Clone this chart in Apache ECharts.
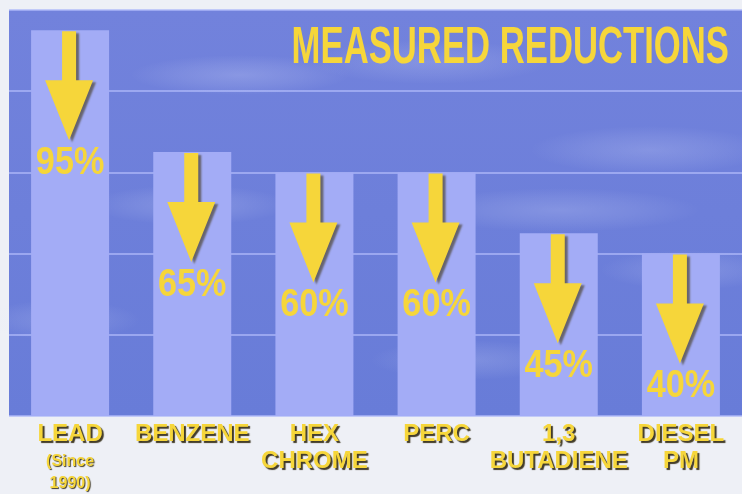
<!DOCTYPE html>
<html><head><meta charset="utf-8">
<script src="https://cdn.jsdelivr.net/npm/echarts@6/dist/echarts.min.js"></script>
<style>html,body{margin:0;padding:0;background:#eef0f6;}#c{width:742px;height:494px;}</style>
</head><body><div id="c"></div>
<script>
const titleText = 'MEASURED REDUCTIONS';
const categories = ['LEAD', 'BENZENE', 'HEX\nCHROME', 'PERC', '1,3\nBUTADIENE', 'DIESEL\nPM'];
const leadNote = ['(Since', '1990)'];
const reductions = [95, 65, 60, 60, 45, 40];
const yMin = 0, yMax = 100, yInterval = 20;

const YELLOW = '#f6d63a';
const SHADOW = 'rgba(45,38,15,0.9)';
const FONT = '"Liberation Sans", Arial, sans-serif';

const chart = echarts.init(document.getElementById('c'), null, {renderer: 'canvas'});

function cloud(cx, cy, rx, ry, op) {
  return {type: 'circle', silent: true, z: 1,
    x: cx, y: cy, scaleX: rx / ry,
    shape: {cx: 0, cy: 0, r: ry},
    style: {fill: {type: 'radial', x: 0.5, y: 0.5, r: 0.5,
      colorStops: [{offset: 0, color: 'rgba(225,230,255,' + op + ')'},
                   {offset: 0.55, color: 'rgba(225,230,255,' + (op * 0.5) + ')'},
                   {offset: 1, color: 'rgba(225,230,255,0)'}]}}};
}

chart.setOption({
  backgroundColor: '#eef0f6',
  animation: false,
  grid: {left: 9, right: 0, top: 10, bottom: 78, show: true,
    backgroundColor: {type: 'linear', x: 0, y: 0, x2: 0, y2: 1,
      colorStops: [{offset: 0, color: '#7282dc'}, {offset: 1, color: '#687cd8'}]},
    borderWidth: 0},
  graphic: [
    cloud(240, 75, 110, 20, 0.22),
    cloud(430, 62, 120, 22, 0.18),
    cloud(650, 150, 120, 24, 0.2),
    cloud(190, 205, 100, 20, 0.2),
    cloud(560, 210, 140, 22, 0.2),
    cloud(60, 320, 80, 20, 0.18),
    cloud(690, 270, 90, 20, 0.18),
    cloud(470, 360, 100, 20, 0.18),
    {type: 'text', z: 10, x: 729, y: 23, scaleX: 0.68,
      style: {text: titleText, font: 'bold 51px ' + FONT, fill: YELLOW,
        align: 'right', verticalAlign: 'top',
        shadowColor: SHADOW, shadowOffsetX: 3, shadowOffsetY: 2, shadowBlur: 1}}
  ],
  xAxis: {
    type: 'category', data: categories,
    axisLine: {show: false}, axisTick: {show: false},
    axisLabel: {
      margin: 5, interval: 0,
      formatter: function (val) {
        const lines = val.split('\n').map(function (l) { return '{a|' + l + '}'; });
        if (val === 'LEAD') {
          lines.push('{g| }');
          leadNote.forEach(function (n) { lines.push('{s|' + n + '}'); });
        }
        return lines.join('\n');
      },
      rich: {
        a: {fontFamily: FONT, fontWeight: 'bold', fontSize: 24, lineHeight: 27, color: YELLOW,
          textShadowColor: SHADOW, textShadowOffsetX: 2, textShadowOffsetY: 2, textShadowBlur: 1},
        g: {fontSize: 1, lineHeight: 3},
        s: {fontFamily: FONT, fontWeight: 'bold', fontSize: 16, lineHeight: 22, color: YELLOW,
          textShadowColor: SHADOW, textShadowOffsetX: 1, textShadowOffsetY: 1, textShadowBlur: 1}
      }
    }
  },
  yAxis: {
    type: 'value', min: yMin, max: yMax, interval: yInterval,
    axisLabel: {show: false}, axisLine: {show: false}, axisTick: {show: false},
    splitLine: {show: true, lineStyle: {color: 'rgba(175,185,250,0.7)', width: 2}}
  },
  series: [
    {type: 'bar', data: reductions, barWidth: 78, z: 3,
      itemStyle: {color: '#a3acf6'}},
    {type: 'custom', z: 5,
      data: reductions.map(function (v, i) { return [i, v]; }),
      encode: {x: 0, y: 1},
      renderItem: function (params, api) {
        const p = api.coord([api.value(0), api.value(1)]);
        const cx = p[0] - 1, y0 = p[1];
        const sw = 7, hw = 24, shaft = 50, tip = 110;
        const pts = [[cx - sw, y0 + 1], [cx + sw, y0 + 1], [cx + sw, y0 + shaft], [cx + hw, y0 + shaft],
          [cx, y0 + tip], [cx - hw, y0 + shaft], [cx - sw, y0 + shaft]];
        return {type: 'group', children: [
          {type: 'polygon', shape: {points: pts},
            style: {fill: YELLOW, shadowColor: 'rgba(60,50,20,0.6)', shadowOffsetX: 3, shadowOffsetY: 2, shadowBlur: 2}},
          {type: 'text', x: p[0], y: y0 + tip + 4, scaleX: 0.9,
            style: {text: api.value(1) + '%', font: 'bold 38px ' + FONT, fill: YELLOW,
              align: 'center', verticalAlign: 'top',
              shadowColor: SHADOW, shadowOffsetX: 2, shadowOffsetY: 2, shadowBlur: 1}}
        ]};
      }
    }
  ]
});
</script></body></html>
